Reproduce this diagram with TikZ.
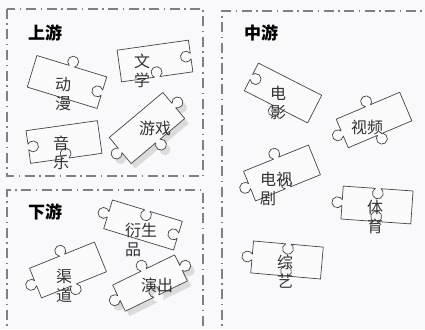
\documentclass[tikz,border=0pt]{standalone}
\usepackage{fontspec}
\setmainfont{Noto Sans CJK SC}

\definecolor{bgc}{HTML}{F9F9FB}
\definecolor{bandc}{HTML}{808080}
\definecolor{piecec}{HTML}{444444}
\definecolor{piecef}{HTML}{FBFBFB}
\definecolor{labelc}{HTML}{333333}

\tikzset{
  band/.style={draw=bandc, line width=1.4pt, dash pattern=on 10pt off 4.5pt on 1.5pt off 4.5pt},
  piece/.style={draw=piecec, line width=0.7pt, fill=piecef, line join=round},
  pieceshadow/.style={draw=none, fill=black!14, xshift=4pt, yshift=-5pt},
  lbl/.style={text=labelc, font=\fontsize{16}{19}\selectfont, align=center, inner sep=0pt},
  ttl/.style={font=\fontsize{17}{20}\selectfont\bfseries, inner sep=0pt},
  % sides of a piece: angle, length
  flat/.style 2 args={insert path={-- ++(#1:#2)}},
  knob/.style 2 args={insert path={-- ++(#1:{(#2-5.5)/2}) arc[start angle=#1+120, delta angle=300, radius=5.5] -- ++(#1:{(#2-5.5)/2})}},
  hole/.style 2 args={insert path={-- ++(#1:{(#2-5.5)/2}) arc[start angle=#1+240, delta angle=-300, radius=5.5] -- ++(#1:{(#2-5.5)/2})}},
}

% style, center, angle, width, height, top, right, bottom, left
\newcommand{\piece}[9]{%
  \draw[piece, #1, shift={(#2)}, rotate=#3] (-#4/2,-#5/2)
    [#6={0}{#4}, #7={90}{#5}, #8={180}{#4}, #9={270}{#5}] -- cycle;
}

\begin{document}
\begin{tikzpicture}[x=1pt, y=-1pt]

	\fill[bgc] (0,0) rectangle (425,329);
	\useasboundingbox (0,0) rectangle (425,329);
	\clip (0,0) rectangle (425,329);

	% Marcos
	\draw[band] (7,9) rectangle (203,176);
	\draw[band] (7,340) -- (7,190) -- (203,190) -- (203,340);
	\draw[band] (222,340) -- (222,11) -- (435,11);

	% Titulos
	\node[ttl] (shangyou) at (45,33) {上游};
	\node[ttl] (xiayou) at (45,212) {下游};
	\node[ttl] (zhongyou) at (261,33) {中游};

	% Upstream
	\piece{}{67,82}{-17}{73}{33}{knob}{hole}{flat}{flat}
	\piece{}{155,61}{8}{72}{32}{flat}{hole}{hole}{flat}
	\piece{}{64,142}{8}{72}{33}{flat}{flat}{hole}{hole}
	\piece{pieceshadow}{147,128}{40}{70}{34}{flat}{knob}{knob}{knob}
	\piece{}{147,128}{40}{70}{34}{flat}{knob}{knob}{knob}

	\node[lbl] (dongman) at (63,94) {动\\漫};
	\node[lbl] (wenxue) at (142,71) {文\\学};
	\node[lbl] (yinyue) at (61,153) {音\\乐};
	\node[lbl] (youxi) at (155,128) {游戏};

	% Downstream
	\piece{}{143,225}{-17}{73}{30}{hole}{hole}{flat}{knob}
	\piece{}{68,270}{22}{70}{32}{knob}{flat}{knob}{knob}
	\piece{pieceshadow}{150,283}{26}{69}{29}{knob}{knob}{hole}{knob}
	\piece{}{150,283}{26}{69}{29}{knob}{knob}{hole}{knob}

	\node[lbl, align=left] (yanshengpin) at (141,240) {衍生\\品};
	\node[lbl] (qudao) at (64,286) {渠\\道};
	\node[lbl] (yanchu) at (157,285) {演出};

	% Midstream
	\piece{}{283,93}{-27}{71}{31}{flat}{flat}{knob}{hole}
	\piece{}{374,120}{23}{69}{31}{knob}{flat}{knob}{knob}
	\piece{}{282,173}{22}{70}{32}{knob}{flat}{hole}{knob}
	\piece{}{377,205}{-4}{70}{33}{hole}{flat}{hole}{knob}
	\piece{}{287,260}{-5}{70}{32}{hole}{flat}{hole}{knob}

	\node[lbl] (dianying) at (278,103) {电\\影};
	\node[lbl] (shipin) at (367,127) {视频};
	\node[lbl, align=left] (dianshiju) at (276,189) {电视\\剧};
	\node[lbl] (tiyu) at (375,217) {体\\育};
	\node[lbl] (zongyi) at (285,272) {综\\艺};

\end{tikzpicture}
\end{document}
